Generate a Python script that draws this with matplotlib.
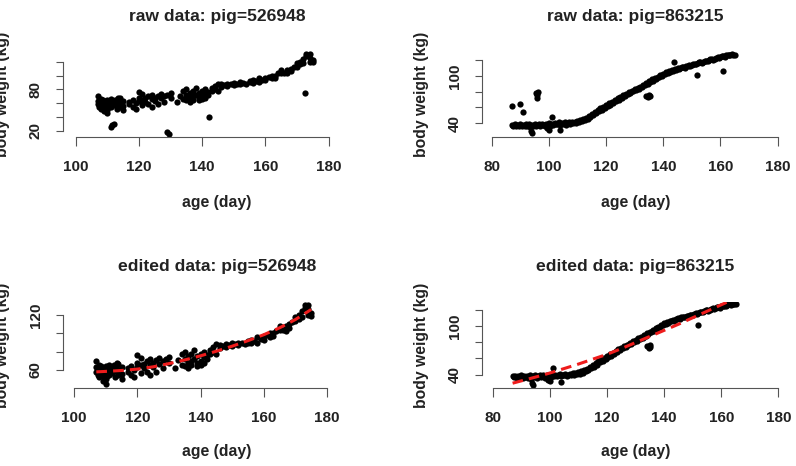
import matplotlib
matplotlib.use("Agg")
import matplotlib.pyplot as plt

plt.rcParams['font.family'] = ['Liberation Sans', 'DejaVu Sans']
plt.rcParams['font.weight'] = 'bold'

# ---------------- data: pig 526948 ----------------
pig1_days = [107, 107, 107, 107.5, 107.5, 108, 108, 108, 108, 108.5, 108.5,
             109, 109, 109, 109, 109.5, 109.5, 110, 110, 110, 110, 110.5, 110.5,
             111, 111, 111, 112, 112, 112.5, 112.5, 113, 113, 113, 113.5, 113.5,
             114, 114, 114, 115, 115, 115,
             117, 117, 118, 118, 119, 119, 120, 120, 120, 121, 121, 121, 122, 122,
             123, 123, 124, 124, 124, 125, 125, 126, 126, 127, 127, 128, 128, 129,
             130, 130, 132, 133, 134, 134, 135, 135, 135, 136, 136, 136, 137, 137, 137,
             138, 138, 139, 139, 139, 140, 140, 140, 141, 141, 141, 142, 142, 143, 143,
             144, 144, 145, 145, 146, 146, 147, 148, 148, 149, 150, 150, 151, 152, 152,
             153, 154, 155, 155, 156, 156, 157, 158, 158, 159, 160, 160, 161, 162, 162,
             163, 163, 164, 165, 165, 166, 167, 167, 168, 168, 169, 170, 170, 171, 171,
             172, 172, 173, 173, 174, 174, 174, 175, 175]
pig1_wt = [70, 63, 58, 61, 55, 55, 60, 66, 52, 58, 64,
           48, 57, 62, 53, 60, 56, 45, 58, 64, 50, 62, 54,
           60, 55, 66, 62, 57, 65, 60, 64, 59, 52, 61, 68,
           67, 60, 55, 56, 50, 63,
           58, 62, 55, 64, 60, 52, 68, 63, 76, 73, 57, 65, 62, 67,
           58, 70, 66, 72, 55, 63, 68, 71, 58, 67, 73, 62, 70, 72,
           68, 74, 62, 71, 78, 66, 80, 72, 64, 75, 68, 62, 70, 78, 65,
           82, 72, 68, 75, 64, 78, 70, 66, 74, 80, 68, 72, 76, 82, 78,
           80, 85, 77, 88, 84, 87, 86, 85, 88, 87, 86, 89, 88, 87, 90,
           89, 88, 90, 92, 93, 89, 92, 96, 90, 94, 97, 93, 98, 96, 100,
           100, 97, 103, 104, 108, 104, 108, 103, 110, 106, 112, 118, 113, 120, 116,
           124, 118, 128, 131, 131, 126, 120, 122, 119]
# points removed in the edited data
pig1_out_days = [111, 111.5, 112, 129, 129.5, 142.3, 172.6]
pig1_out_wt = [26, 28, 29, 18.5, 15.6, 40.3, 74]

# fitted curve (edited panel)
pig1_fit_days = [107, 110, 115, 120, 125, 130, 135, 140, 145, 150, 155, 160, 165, 170, 175]
pig1_fit_wt = [58, 58.5, 59.5, 61, 63.5, 67, 71, 75.5, 80.5, 86, 92, 98.5, 106, 115, 126]

# ---------------- data: pig 863215 ----------------
pig2_days = [87.0, 87.5, 88.0, 88.5, 89.0, 89.5, 90.0, 90.5, 91.0, 91.5, 92.0, 92.5,
             93.0, 93.5, 94.0, 94.5, 95.0, 95.5, 96.0, 96.5, 97.0, 97.5, 98.0, 98.5,
             99.0, 99.5, 100.0, 100.5, 101.0, 101.5, 102.0, 102.5, 103.0, 103.5, 104.0,
             104.5, 105.0, 105.5, 106.0, 106.5, 107.0, 107.5, 108.0, 108.5, 109.0, 109.5,
             110.0, 110.5, 111.0, 111.5, 112.0, 112.5, 113.0, 113.5, 114.0, 114.5, 115.0,
             115.5, 116.0, 116.5, 117.0, 117.5, 118.0, 118.5, 119.0, 119.5, 120.0, 120.5,
             121.0, 121.5, 122.0, 122.5, 123.0, 123.5, 124.0, 124.5, 125.0, 125.5, 126.0,
             126.5, 127.0, 127.5, 128.0, 128.5, 129.0, 129.5, 130.0, 130.5, 131.0, 131.5,
             132.0, 132.5, 133.0, 133.5, 134.0, 134.5, 135.0, 135.5, 136.0, 136.5, 137.0,
             137.5, 138.0, 138.5, 139.0, 139.5, 140.0, 140.5, 141.0, 141.5, 142.0, 142.5,
             143.0, 143.5, 144.0, 144.5, 145.0, 145.5, 146.0, 146.5, 147.0, 147.5, 148.0,
             148.5, 149.0, 149.5, 150.0, 150.5, 151.0, 151.5, 152.0, 152.5, 153.0, 153.5,
             154.0, 154.5, 155.0, 155.5, 156.0, 156.5, 157.0, 157.5, 158.0, 158.5, 159.0,
             159.5, 160.0, 160.5, 161.0, 161.5, 162.0, 162.5, 163.0, 163.5, 164.0, 164.5,
             165.0,
             94.0, 93.8, 99.4, 100.0, 101.0, 104.0, 134.0, 134.6, 135.0, 135.2, 151.9]
pig2_wt = [38, 37, 38.5, 36, 38, 37, 39, 36.5, 38, 37, 38.5, 36,
           39, 35, 38, 37, 39, 36, 38, 39, 37, 39.5, 38, 36.5,
           39, 38, 40, 37, 39, 38, 40, 38.5, 39, 41, 38,
           40, 39.5, 41, 38, 40, 41, 39, 41.5, 40, 42, 40.5,
           43, 41, 44, 42.5, 45.5, 44, 47, 45.5, 49, 48, 51.5,
           50, 54, 52.5, 56.5, 55, 59, 57, 61, 59.5, 63, 62,
           65.5, 63.5, 67, 66, 69.5, 68, 71.5, 70, 73, 72.5, 75.5,
           74, 77, 76.5, 79.5, 78, 81, 80.5, 83, 82, 84.5, 83.5,
           86.5, 85.5, 88.5, 88, 91, 90, 93, 92.5, 95.5, 94, 97,
           96.5, 99, 98.5, 101, 100.5, 103, 102, 104.5, 104, 106, 105.5,
           107.5, 106.5, 109, 108, 110, 109, 110.5, 111, 111.5, 110.5, 112,
           112.5, 113.5, 113, 114, 115, 115.5, 114.5, 116, 117, 117.5, 116.5,
           118, 119, 119.5, 118.5, 120, 121, 121.5, 120.5, 122, 123, 123.5,
           122.5, 124, 125, 125, 124.5, 126, 126.5, 127, 126, 127.5, 127,
           127,
           27.3, 30, 33.5, 32, 48, 31, 75, 73, 76, 74, 101]
# points removed in the edited data
pig2_out_days = [87.0, 89.9, 91.0, 95.5, 95.7, 96.0, 96.3, 143.8, 160.8]
pig2_out_wt = [62, 64, 54, 78, 76, 72, 79, 118, 106.6]

pig2_fit_days = [87, 95, 100, 105, 110, 115, 120, 125, 130, 135, 140, 145, 150, 155, 160, 162.5]
pig2_fit_wt = [29.5, 37, 42, 47.5, 53, 59, 65, 72, 79.5, 87, 94.5, 102, 110, 118, 126, 130]

# ---------------- axes text ----------------
x_ticks_1 = [100, 120, 140, 160, 180]
x_ticks_2 = [80, 100, 120, 140, 160, 180]
y_ticks_raw1 = [20, 40, 60, 80, 100, 120]
y_labels_raw1 = ['20', '', '', '80', '', '']
y_ticks_raw2 = [40, 60, 80, 100, 120]
y_labels_raw2 = ['40', '', '', '100', '']
y_ticks_ed1 = [60, 80, 100, 120]
y_labels_ed1 = ['60', '', '', '120']
y_ticks_ed2 = [40, 60, 80, 100, 120]
y_labels_ed2 = ['40', '', '', '100', '']

titles = ['raw data: pig=526948', 'raw data: pig=863215',
          'edited data: pig=526948', 'edited data: pig=863215']
x_label = 'age (day)'
y_label = 'body weight (kg)'

W, H = 796, 466
fig = plt.figure(figsize=(W / 100, H / 100), dpi=100)
AXC = '#555555'


def add_panel(left, right, top, bottom, xlim, ylim, xt, yt, ytl, title, title_y, xlab_y, ylab_x):
    ax = fig.add_axes([left / W, 1 - bottom / H, (right - left) / W, (bottom - top) / H])
    ax.set_xlim(*xlim)
    ax.set_ylim(*ylim)
    for s in ['top', 'right']:
        ax.spines[s].set_visible(False)
    for s in ['left', 'bottom']:
        ax.spines[s].set_linewidth(0.8)
        ax.spines[s].set_color(AXC)
    ax.spines['bottom'].set_bounds(xt[0], xt[-1])
    ax.spines['left'].set_bounds(yt[0], yt[-1])
    ax.set_xticks(xt)
    ax.set_xticklabels([str(v) for v in xt])
    ax.set_yticks(yt)
    ax.set_yticklabels(ytl)
    ax.tick_params(axis='x', length=6.5, width=0.8, color=AXC, pad=10, labelsize=11)
    ax.tick_params(axis='y', length=5, width=0.8, color=AXC, pad=9.4, labelsize=11)
    for lab in ax.get_yticklabels():
        lab.set_rotation(90)
        lab.set_va('center')
    for lab in ax.get_xticklabels() + ax.get_yticklabels():
        lab.set_fontweight('bold')
        lab.set_color('#222222')
    ax.patch.set_visible(False)
    cx = (left + right) / 2
    fig.text(cx / W, 1 - title_y / H, title, ha='center', va='center',
             fontsize=12.6, fontweight='bold', color='#222222')
    fig.text(cx / W, 1 - xlab_y / H, x_label, ha='center', va='center',
             fontsize=11.3, fontweight='bold', color='#222222')
    fig.text(ylab_x / W, 1 - ((top + bottom) / 2 + 1) / H, y_label, ha='center', va='center',
             rotation=90, fontsize=11.3, fontweight='bold', color='#222222')
    return ax


ms = 4.5
# panel 1: raw pig 526948
ax1 = add_panel(62.5, 371.5, 50.9, 136.7, (95.8, 193.6), (11.3, 135.7),
                x_ticks_1, y_ticks_raw1, y_labels_raw1, titles[0], 16, 202, 3)
ax1.plot(pig1_days + pig1_out_days, pig1_wt + pig1_out_wt, 'o', color='black', ms=ms, mew=0)

# panel 2: raw pig 863215
ax2 = add_panel(482, 788.5, 50, 136.7, (76.6, 183.8), (23, 132.8),
                x_ticks_2, y_ticks_raw2, y_labels_raw2, titles[1], 16, 202, 421)
ax2.plot(pig2_days + pig2_out_days, pig2_wt + pig2_out_wt, 'o', color='black', ms=ms, mew=0)

# panel 3: edited pig 526948
ax3 = add_panel(62.5, 371.5, 301.5, 388, (96.3, 194.1), (40.4, 134.7),
                x_ticks_1, y_ticks_ed1, y_labels_ed1, titles[2], 267, 451.5, 3)
ax3.plot(pig1_days, pig1_wt, 'o', color='black', ms=ms, mew=0)
l3, = ax3.plot(pig1_fit_days, pig1_fit_wt, '-', color='#ee1c1c', lw=2.2)
l3.set_dashes((3.5, 2))

# panel 4: edited pig 863215
ax4 = add_panel(482, 788.5, 301.5, 388, (76.3, 183.5), (23.6, 130),
                x_ticks_2, y_ticks_ed2, y_labels_ed2, titles[3], 267, 451.5, 421)
ax4.plot(pig2_days, pig2_wt, 'o', color='black', ms=ms, mew=0)
l4, = ax4.plot(pig2_fit_days, pig2_fit_wt, '-', color='#ee1c1c', lw=2.2)
l4.set_dashes((3.5, 2))

fig.savefig('out.png', dpi=100)
